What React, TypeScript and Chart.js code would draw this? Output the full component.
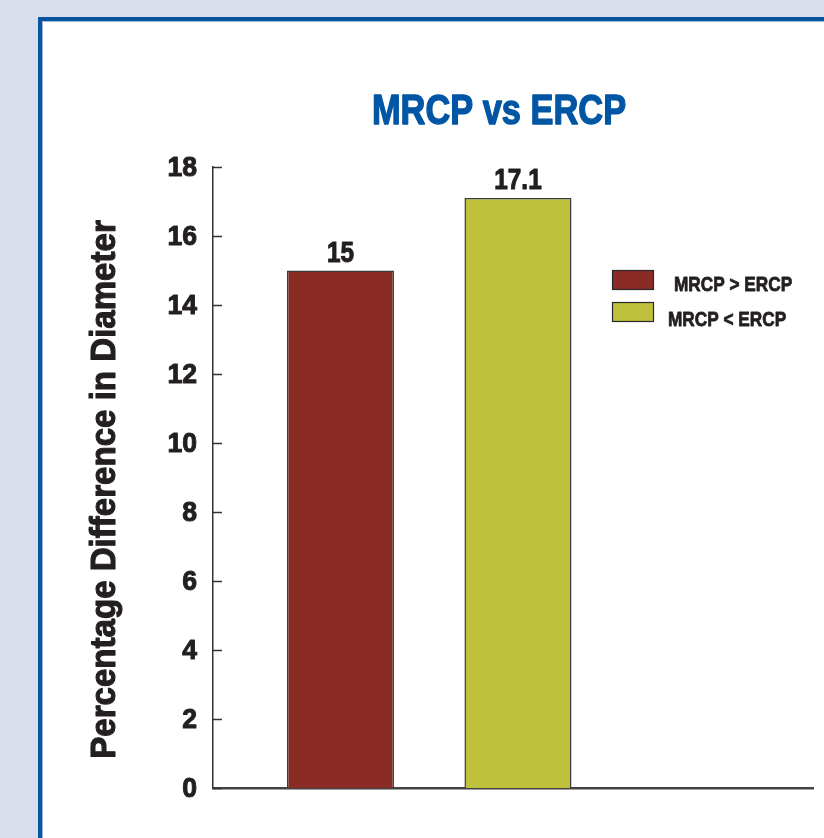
import React, { useEffect, useRef } from 'react';
import { Chart, registerables } from 'chart.js';

Chart.register(...registerables);

const chartTitle = 'MRCP vs ERCP';
const yAxisTitle = 'Percentage Difference in Diameter';
const categories = ['MRCP > ERCP', 'MRCP < ERCP'];
const values = [15, 17.1];
const valueLabels = ['15', '17.1'];
const barColors = ['#8B2B25', '#BFC03B'];
const yTicks = [0, 2, 4, 6, 8, 10, 12, 14, 16, 18];

const FONT = "'Liberation Sans', Arial, Helvetica, sans-serif";
const TEXT = '#231F20';

// draw horizontally condensed heavy text (Helvetica Condensed Bold look)
function condText(
  ctx: CanvasRenderingContext2D,
  text: string,
  x: number,
  y: number,
  size: number,
  sx: number,
  align: CanvasTextAlign,
  baseline: CanvasTextBaseline,
  color: string,
  weight: number,
  rotation = 0
) {
  ctx.save();
  ctx.translate(x, y);
  if (rotation) ctx.rotate(rotation);
  ctx.scale(sx, 1);
  ctx.font = `bold ${size}px ${FONT}`;
  ctx.fillStyle = color;
  ctx.strokeStyle = color;
  ctx.lineWidth = weight;
  ctx.lineJoin = 'round';
  ctx.textAlign = align;
  ctx.textBaseline = baseline;
  ctx.fillText(text, 0, 0);
  if (weight > 0) ctx.strokeText(text, 0, 0);
  ctx.restore();
}

const extrasPlugin = {
  id: 'extras',
  afterDraw(chart: any) {
    const ctx = chart.ctx;
    const area = chart.chartArea;
    const y = chart.scales.y;
    ctx.save();
    // inward ticks + tick labels
    ctx.strokeStyle = '#333333';
    ctx.lineWidth = 1.5;
    yTicks.forEach((v) => {
      const py = Math.round(y.getPixelForValue(v)) + 0.5;
      ctx.beginPath();
      ctx.moveTo(area.left, py);
      ctx.lineTo(area.left + 9, py);
      ctx.stroke();
      condText(ctx, String(v), area.left - 16, py + 1, 28, 0.95, 'right', 'middle', TEXT, 1);
    });
    // y axis title
    condText(ctx, yAxisTitle, 115, (area.top + area.bottom) / 2 + 12, 35, 0.945, 'center', 'alphabetic', TEXT, 1.1, -Math.PI / 2);
    // value labels
    const meta = chart.getDatasetMeta(0);
    meta.data.forEach((bar: any, i: number) => {
      condText(ctx, valueLabels[i], bar.x, bar.y - 9, 29, 0.84, 'center', 'alphabetic', TEXT, 1);
    });
    // title
    condText(ctx, chartTitle, 499, 124, 43, 0.8, 'center', 'alphabetic', '#0056A4', 1.4);
    // legend
    const lx = 612, ly = 270, bw = 41, bh = 19, gap = 32;
    const textOffsets = [62, 56];
    categories.forEach((c, i) => {
      const top = ly + i * gap;
      ctx.fillStyle = barColors[i];
      ctx.fillRect(lx, top, bw, bh);
      ctx.strokeStyle = '#2a2a2a';
      ctx.lineWidth = 1.2;
      ctx.strokeRect(lx + 0.5, top + 0.5, bw, bh);
      condText(ctx, c, lx + textOffsets[i], top + 21 + i * 3, 21, 0.82, 'left', 'alphabetic', TEXT, 0.8);
    });
    ctx.restore();
  },
};

export default function App() {
  const ref = useRef<HTMLCanvasElement | null>(null);

  useEffect(() => {
    if (!ref.current) return;
    const chart = new Chart(ref.current, {
      type: 'bar',
      data: {
        datasets: [
          {
            label: chartTitle,
            data: values.map((v, i) => ({ x: i, y: v })),
            backgroundColor: barColors,
            borderColor: '#3a3a3a',
            borderWidth: 1.5,
            barPercentage: 0.603,
            categoryPercentage: 1,
          },
        ],
      },
      options: {
        responsive: false,
        animation: false,
        layout: { padding: { top: 167, bottom: 50, right: 11, left: 0 } },
        plugins: {
          legend: { display: false },
          title: { display: false },
          tooltip: { enabled: false },
        },
        scales: {
          x: {
            type: 'linear',
            offset: false,
            min: -0.718,
            max: 2.662,
            afterBuildTicks: (s: any) => {
              s.ticks = values.map((_, i) => ({ value: i }));
            },
            grid: { display: false, drawTicks: false, offset: false },
            ticks: { display: false },
            border: { display: true, color: '#444444', width: 2.5 },
            afterFit: (s: any) => {
              s.height = 0;
            },
          },
          y: {
            min: 0,
            max: 18,
            afterBuildTicks: (s: any) => {
              s.ticks = yTicks.map((v) => ({ value: v }));
            },
            grid: { display: false, drawTicks: false },
            border: { display: true, color: '#333333', width: 1.5 },
            ticks: { display: false },
            title: { display: false },
            afterFit: (s: any) => {
              s.width = 213;
            },
          },
        },
      },
      plugins: [extrasPlugin],
    } as any);
    return () => chart.destroy();
  }, []);

  return (
    <div
      style={{
        position: 'fixed',
        left: 0,
        top: 0,
        width: 824,
        height: 838,
        overflow: 'hidden',
        background: '#D8DEEC',
      }}
    >
      <div
        style={{
          position: 'absolute',
          left: 38,
          top: 17,
          width: 1000,
          height: 1000,
          background: '#ffffff',
          border: '4px solid #0A559F',
          boxShadow: 'inset 0 0 0 1px #9DB8DC',
        }}
      />
      <canvas
        ref={ref}
        width={824}
        height={838}
        style={{ position: 'absolute', left: 0, top: 0, width: 824, height: 838 }}
      />
    </div>
  );
}
